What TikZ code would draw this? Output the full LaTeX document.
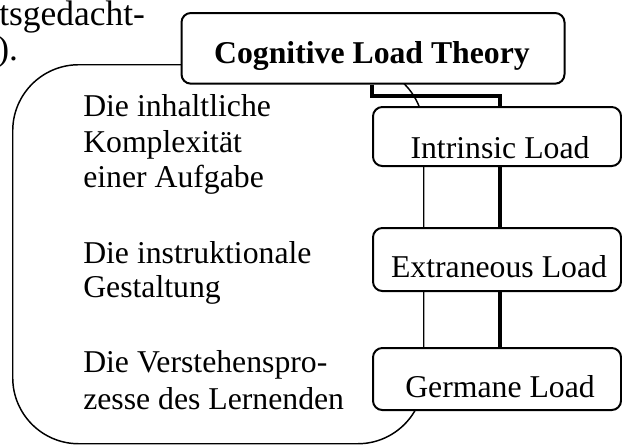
\documentclass[tikz,border=0pt]{standalone}
\usepackage{fontspec}
\setmainfont{Liberation Serif}
\begin{document}
\begin{tikzpicture}[x=0.75pt,y=-0.75pt,
  big/.style={font=\fontsize{23.8}{26.8}\selectfont},
  txt/.style={big,inner sep=0pt,anchor=base west},
  pagetxt/.style={font=\fontsize{26.6}{30}\selectfont,inner sep=0pt,anchor=base west},
  lab/.style={big,inner sep=0pt,anchor=base},
  box/.style={draw,line width=1.5pt,rounded corners=7pt,fill=white,inner sep=0pt,anchor=north west},
  region/.style={draw,line width=1.1pt,rounded corners=49.5pt,inner sep=0pt,anchor=north west},
  conn/.style={line width=3pt,line cap=butt,line join=miter}]
\useasboundingbox (0,0) rectangle (622,444);
% clipped text of the surrounding page
\node[pagetxt] (pg1) at (-1,25) {tsgedacht-};
\node[pagetxt] (pg2) at (-3,60) {).};
% large rounded region behind the boxes
\node[region,minimum width=308.25pt,minimum height=284.25pt] (reg) at (12,64) {};
% boxes
\node[box,minimum width=287.25pt,minimum height=53pt] (clt) at (180.5,12) {};
\node[box,minimum width=186pt,minimum height=44.25pt] (intr) at (372,106) {};
\node[box,minimum width=186pt,minimum height=47.25pt] (extr) at (372,227) {};
\node[box,minimum width=186pt,minimum height=46.5pt] (germ) at (372,347) {};
% box labels
\node[lab,font=\fontsize{23.8}{26.8}\selectfont\bfseries] (cltl) at (372,63) {Cognitive Load Theory};
\node[lab] (intrl) at (500,158) {Intrinsic Load};
\node[lab] (extrl) at (499,277) {Extraneous Load};
\node[lab] (germl) at (500,397) {Germane Load};
% connectors
\coordinate (cx) at (500,0);
\draw[conn] (clt.south -| intr.west) -- ++(0,11.8) -| (intr.north -| cx);
\draw[conn] (intr.south -| cx) -- (extr.north -| cx);
\draw[conn] (extr.south -| cx) -- (germ.north -| cx);
% left texts
\node[txt] (a1) at (83,116) {Die inhaltliche};
\node[txt] (a2) at (83,152) {Komplexität};
\node[txt] (a3) at (83,187) {einer Aufgabe};
\node[txt] (b1) at (83,263) {Die instruktionale};
\node[txt] (b2) at (83,297) {Gestaltung};
\node[txt] (c1) at (83,372) {Die Verstehenspro-};
\node[txt] (c2) at (83,409) {zesse des Lernenden};
\end{tikzpicture}
\end{document}
